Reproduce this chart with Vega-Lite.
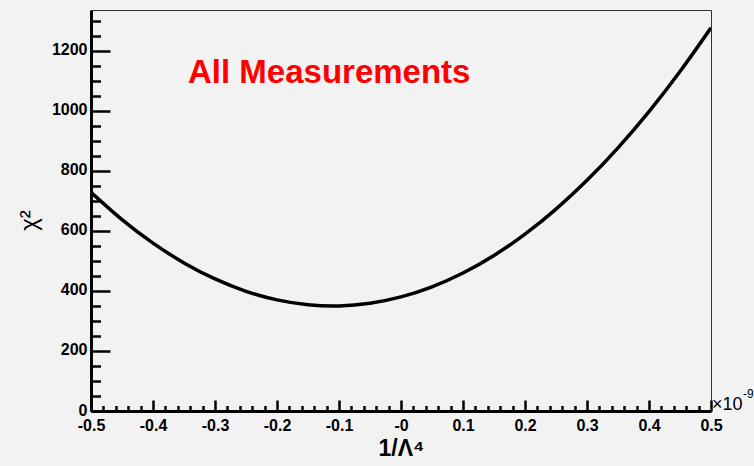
{
  "$schema": "https://vega.github.io/schema/vega-lite/v6.json",
  "width": 620,
  "height": 401,
  "autosize": "none",
  "padding": {"left": 91, "top": 10, "right": 43, "bottom": 55},
  "background": "#f2f2f2",
  "config": {
    "view": {"stroke": "#333333", "strokeWidth": 1, "fill": "#f2f2f2"},
    "font": "Liberation Sans"
  },
  "layer": [
    {
      "data": {"values": [
        {"x": -0.5, "chi2": 728.7},
        {"x": -0.45, "chi2": 637.8},
        {"x": -0.4, "chi2": 559.4},
        {"x": -0.35, "chi2": 493.4},
        {"x": -0.3, "chi2": 439.9},
        {"x": -0.25, "chi2": 398.8},
        {"x": -0.2, "chi2": 370.2},
        {"x": -0.15, "chi2": 354.0},
        {"x": -0.1, "chi2": 350.2},
        {"x": -0.05, "chi2": 359.0},
        {"x": 0.0, "chi2": 380.1},
        {"x": 0.05, "chi2": 413.7},
        {"x": 0.1, "chi2": 459.8},
        {"x": 0.15, "chi2": 518.3},
        {"x": 0.2, "chi2": 589.3},
        {"x": 0.25, "chi2": 672.7},
        {"x": 0.3, "chi2": 768.6},
        {"x": 0.35, "chi2": 876.9},
        {"x": 0.4, "chi2": 997.6},
        {"x": 0.45, "chi2": 1130.9},
        {"x": 0.5, "chi2": 1276.5}
      ]},
      "mark": {"type": "line", "color": "black", "strokeWidth": 3.5, "interpolate": "natural", "clip": true},
      "encoding": {
        "x": {
          "field": "x", "type": "quantitative",
          "scale": {"domain": [-0.5, 0.5], "nice": false, "zero": false},
          "axis": {
            "values": [-0.5,-0.48,-0.46,-0.44,-0.42,-0.4,-0.38,-0.36,-0.34,-0.32,-0.3,-0.28,-0.26,-0.24,-0.22,-0.2,-0.18,-0.16,-0.14,-0.12,-0.1,-0.08,-0.06,-0.04,-0.02,0,0.02,0.04,0.06,0.08,0.1,0.12,0.14,0.16,0.18,0.2,0.22,0.24,0.26,0.28,0.3,0.32,0.34,0.36,0.38,0.4,0.42,0.44,0.46,0.48,0.5],
            "tickCount": 200,
            "labelExpr": "abs(datum.value*10 - round(datum.value*10)) < 0.000001 ? (abs(datum.value) < 0.000001 ? '-0' : (datum.value < 0 ? '-' : '') + format(abs(datum.value), '.1f')) : ''",
            "labelFont": "Liberation Sans",
            "labelFontWeight": "bold",
            "labelFontSize": 16,
            "labelColor": "black",
            "labelFlush": false,
            "labelOverlap": false,
            "labelPadding": 17,
            "labelBaseline": "top",
            "tickColor": "black",
            "tickWidth": 2.5,
            "tickSize": {"condition": {"test": "abs(datum.value*10 - round(datum.value*10)) < 0.000001", "value": -11}, "value": -5.5},
            "domainColor": "black",
            "domainWidth": 3,
            "grid": false,
            "title": "1/Λ⁴",
            "titleFont": "Liberation Sans",
            "titleFontWeight": "bold",
            "titleFontSize": 23,
            "titleColor": "black",
            "titleX": 310,
            "titleY": 44,
            "titleAlign": "center",
            "titleBaseline": "alphabetic"
          }
        },
        "y": {
          "field": "chi2", "type": "quantitative",
          "scale": {"domain": [0, 1336], "nice": false, "zero": false},
          "axis": {
            "values": [0,50,100,150,200,250,300,350,400,450,500,550,600,650,700,750,800,850,900,950,1000,1050,1100,1150,1200,1250,1300],
            "tickCount": 200,
            "labelExpr": "datum.value % 200 == 0 ? format(datum.value, 'd') : ''",
            "labelFont": "Liberation Sans",
            "labelFontWeight": "bold",
            "labelFontSize": 16,
            "labelColor": "black",
            "labelFlush": false,
            "labelOverlap": false,
            "labelPadding": 23,
            "labelOffset": -1,
            "tickColor": "black",
            "tickWidth": 2.5,
            "tickSize": {"condition": {"test": "datum.value % 200 == 0", "value": -19}, "value": -9.5},
            "domainColor": "black",
            "domainWidth": 3,
            "grid": false,
            "title": "χ²",
            "titleFont": "Liberation Sans",
            "titleFontWeight": "normal",
            "titleFontSize": 24,
            "titleColor": "black",
            "titleAngle": -90,
            "titleX": -62,
            "titleY": 210,
            "titleAlign": "center",
            "titleBaseline": "middle"
          }
        }
      }
    },
    {
      "data": {"values": [{"label": "All Measurements"}]},
      "mark": {"type": "text", "color": "#ff0000", "font": "Liberation Sans", "fontWeight": "bold", "fontSize": 33, "align": "left", "baseline": "alphabetic"},
      "encoding": {
        "x": {"datum": -0.3435, "type": "quantitative"},
        "y": {"datum": 1093, "type": "quantitative"},
        "text": {"field": "label"}
      }
    },
    {
      "data": {"values": [{"label": "×10"}]},
      "mark": {"type": "text", "color": "black", "font": "Liberation Sans", "fontSize": 18, "align": "left", "baseline": "alphabetic", "dx": 1, "dy": -1},
      "encoding": {
        "x": {"datum": 0.5, "type": "quantitative"},
        "y": {"datum": 0, "type": "quantitative"},
        "text": {"field": "label"}
      }
    },
    {
      "data": {"values": [{"label": "-9"}]},
      "mark": {"type": "text", "color": "black", "font": "Liberation Sans", "fontSize": 12, "align": "left", "baseline": "alphabetic", "dx": 32, "dy": -13},
      "encoding": {
        "x": {"datum": 0.5, "type": "quantitative"},
        "y": {"datum": 0, "type": "quantitative"},
        "text": {"field": "label"}
      }
    }
  ]
}
